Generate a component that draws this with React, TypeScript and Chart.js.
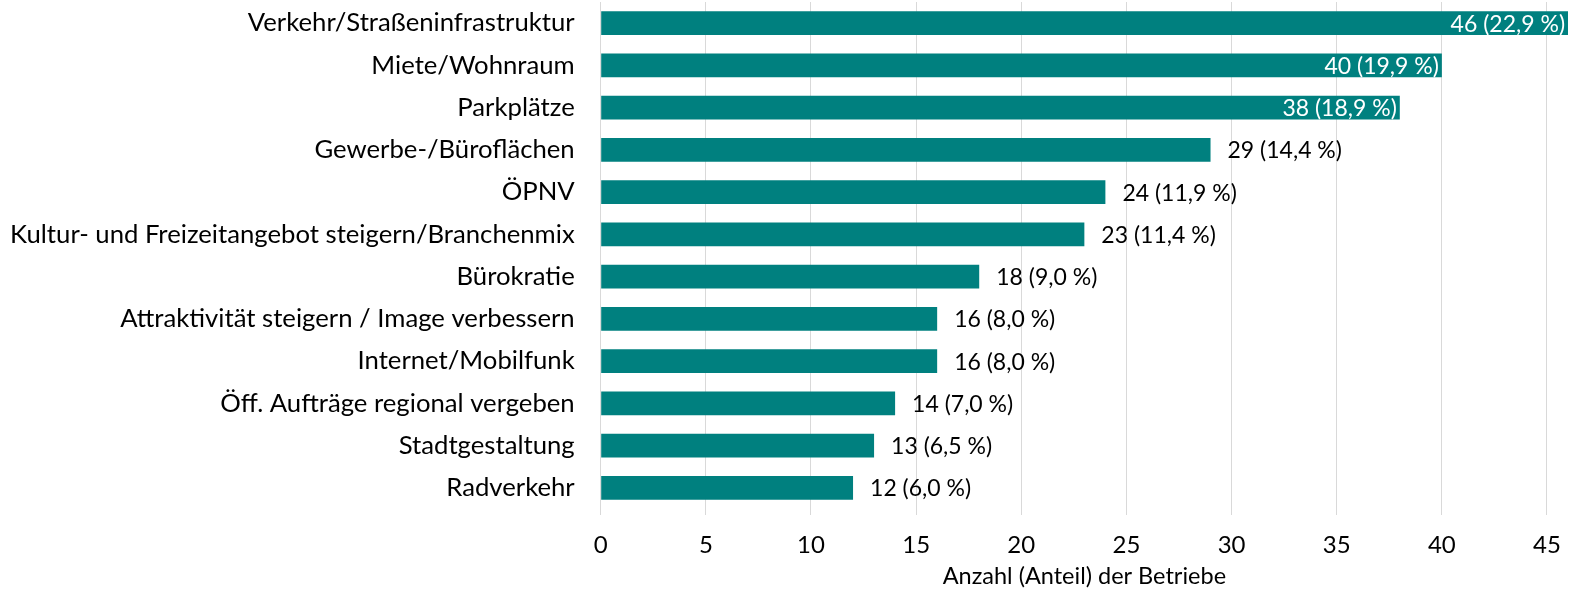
import { useEffect, useRef } from "react";
import { Chart, registerables } from "chart.js";

Chart.register(...registerables);

const categories = [
  "Verkehr/Straßeninfrastruktur",
  "Miete/Wohnraum",
  "Parkplätze",
  "Gewerbe-/Büroflächen",
  "ÖPNV",
  "Kultur- und Freizeitangebot steigern/Branchenmix",
  "Bürokratie",
  "Attraktivität steigern / Image verbessern",
  "Internet/Mobilfunk",
  "Öff. Aufträge regional vergeben",
  "Stadtgestaltung",
  "Radverkehr",
];
const counts = [46, 40, 38, 29, 24, 23, 18, 16, 16, 14, 13, 12];
const shares = [22.9, 19.9, 18.9, 14.4, 11.9, 11.4, 9.0, 8.0, 8.0, 7.0, 6.5, 6.0];
const xTicks = [0, 5, 10, 15, 20, 25, 30, 35, 40, 45];
const axisMax = 46;
const axisTitle = "Anzahl (Anteil) der Betriebe";

const FONT = "Lato, 'Open Sans', sans-serif";
const BAR_COLOR = "#00807F";
const GRID_COLOR = "#D9D9D9";
const W = 1577;
const H = 592;

const labelPlugin = {
  id: "barLabels",
  afterDatasetsDraw(chart: any) {
    const ctx = chart.ctx;
    const meta = chart.getDatasetMeta(0);
    ctx.save();
    ctx.font = `23px ${FONT}`;
    ctx.textBaseline = "middle";
    meta.data.forEach((bar: any, i: number) => {
      const v = counts[i];
      const text = `${v} (${shares[i].toFixed(1).replace(".", ",")} %)`;
      const inside = v / axisMax > 0.75;
      if (inside) {
        ctx.fillStyle = "#FFFFFF";
        ctx.textAlign = "right";
        ctx.fillText(text, bar.x - 3, bar.y + 1);
      } else {
        ctx.fillStyle = "#000000";
        ctx.textAlign = "left";
        ctx.fillText(text, bar.x + 17, bar.y + 1);
      }
    });
    ctx.restore();
  },
};

export default function App() {
  const ref = useRef<HTMLCanvasElement | null>(null);
  useEffect(() => {
    if (!ref.current) return;
    const chart = new Chart(ref.current, {
      type: "bar",
      data: {
        labels: categories,
        datasets: [
          {
            data: counts,
            backgroundColor: BAR_COLOR,
            borderWidth: 0,
            barPercentage: 0.565,
            categoryPercentage: 1,
          },
        ],
      },
      options: {
        indexAxis: "y",
        responsive: false,
        animation: false,
        devicePixelRatio: 1,
        layout: { padding: { left: 0, right: 4, top: 2, bottom: 0 } },
        plugins: {
          legend: { display: false },
          tooltip: { enabled: false },
          title: { display: false },
        },
        scales: {
          x: {
            min: 0,
            max: axisMax,
            afterBuildTicks: (axis: any) => {
              axis.ticks = xTicks.map((v) => ({ value: v }));
            },
            afterFit: (scale: any) => {
              scale.height = 83;
            },
            grid: {
              color: GRID_COLOR,
              lineWidth: 1,
              drawTicks: true,
              tickLength: 6,
              tickColor: GRID_COLOR,
            },
            border: { display: false },
            ticks: {
              color: "#000000",
              font: { family: FONT, size: 24 },
              padding: 16,
              maxRotation: 0,
            },
            title: {
              display: true,
              text: axisTitle,
              color: "#000000",
              font: { family: FONT, size: 23.5 },
              padding: { top: 0, bottom: 1 },
            },
          },
          y: {
            afterFit: (scale: any) => {
              scale.width = 600.7;
              scale.paddingTop = 0;
              scale.paddingBottom = 0;
            },
            grid: { display: false, drawTicks: false },
            border: { display: false },
            ticks: {
              color: "#000000",
              font: { family: FONT, size: 25.7 },
              padding: 26,
              autoSkip: false,
            },
          },
        },
      },
      plugins: [labelPlugin],
    });
    return () => chart.destroy();
  }, []);
  return (
    <div style={{ position: "absolute", left: 0, top: 0, width: W, height: H }}>
      <canvas ref={ref} width={W} height={H} style={{ display: "block", width: W, height: H }} />
    </div>
  );
}
